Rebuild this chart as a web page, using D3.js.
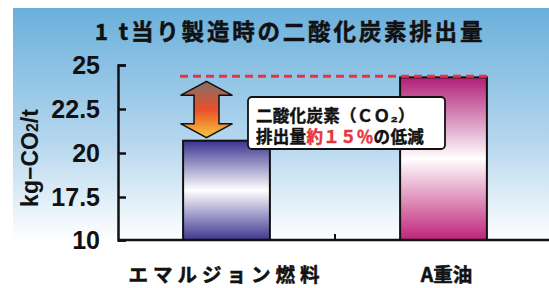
<!DOCTYPE html>
<html>
<head>
<meta charset="utf-8">
<script src="https://cdn.jsdelivr.net/npm/d3@7"></script>
<style>
  body { margin: 0; background: #fff; }
  svg { display: block; }
</style>
</head>
<body>
<div id="root"></div>
<script>
const categories = ['エマルジョン燃料', 'A重油'];
const emissions = [20.7, 24.3];
// the axis is broken: the bottom tick is 10, the rest step by 2.5
const yTicks = [10, 17.5, 20, 22.5, 25];
const titleText = '1 t当り製造時の二酸化炭素排出量';

const width = 549;
const height = 288;

const svg = d3.select('#root')
    .append('svg')
        .attr('width', width)
        .attr('height', height);

const defs = svg.append('defs');

const bg = defs.append('linearGradient')
    .attr('id', 'bg').attr('x1', 0).attr('y1', 0).attr('x2', 0).attr('y2', 1);
bg.append('stop').attr('offset', 0).attr('stop-color', '#6ab0dc');
bg.append('stop').attr('offset', 0.55).attr('stop-color', '#b6d7ee');
bg.append('stop').attr('offset', 0.95).attr('stop-color', '#ffffff');

const barColors = [
    ['#3b3390', '#ffffff', '#3f3790'],
    ['#b01f78', '#ffffff', '#bf2479']
];
barColors.forEach((c, i) => {
    const g = defs.append('linearGradient')
        .attr('id', `bar${i}`).attr('x1', 0).attr('y1', 0).attr('x2', 0).attr('y2', 1);
    g.append('stop').attr('offset', 0).attr('stop-color', c[0]);
    g.append('stop').attr('offset', 0.5).attr('stop-color', c[1]);
    g.append('stop').attr('offset', 1).attr('stop-color', c[2]);
});

const arrowGrad = defs.append('linearGradient')
    .attr('id', 'arrow').attr('x1', 0).attr('y1', 0).attr('x2', 0).attr('y2', 1);
arrowGrad.append('stop').attr('offset', 0.05).attr('stop-color', '#8b6d63');
arrowGrad.append('stop').attr('offset', 0.5).attr('stop-color', '#ea4f2a');
arrowGrad.append('stop').attr('offset', 0.95).attr('stop-color', '#f5bb3a');

// background panel
svg.append('rect')
    .attr('x', 13).attr('y', 8)
    .attr('width', width - 13).attr('height', 245)
    .attr('fill', 'url(#bg)');

svg.append('text')
    .attr('x', 290).attr('y', 40)
    .attr('text-anchor', 'middle')
    .attr('font-family', '"Noto Sans CJK JP", sans-serif')
    .attr('font-weight', 'bold')
    .attr('font-size', 22.5)
    .attr('letter-spacing', 2.8)
    .attr('fill', '#111')
    .attr('stroke', '#111')
    .attr('stroke-width', 0.5)
    .text(titleText);

const y = d3.scaleLinear()
    .domain([10, 17.5, 25])
    .range([240, 197, 65]);

const x = d3.scaleBand()
    .domain(categories)
    .range([118, 552])
    .padding(0);

const barW = x.bandwidth() * 0.4;

// bars
svg.selectAll('.bar')
    .data(categories)
    .enter()
    .append('rect')
        .attr('class', 'bar')
        .attr('x', c => x(c) + (x.bandwidth() - barW) / 2)
        .attr('y', (c, i) => y(emissions[i]))
        .attr('width', barW)
        .attr('height', (c, i) => y(10) - y(emissions[i]))
        .attr('fill', (c, i) => `url(#bar${i})`)
        .attr('stroke', '#111')
        .attr('stroke-width', 2);

// dashed reference line at A重油 level
svg.append('line')
    .attr('x1', x(categories[0]) + 62)
    .attr('x2', x(categories[1]) + (x.bandwidth() + barW) / 2)
    .attr('y1', y(emissions[1]) - 1)
    .attr('y2', y(emissions[1]) - 1)
    .attr('stroke', '#e8323c')
    .attr('stroke-width', 3)
    .attr('stroke-dasharray', '8,5');

// double arrow between the two levels
const ax = x(categories[0]) + x.bandwidth() / 2 - 20;
const aTop = y(emissions[1]) + 4;
const aBot = y(emissions[0]) - 3;
const hw = 26, sw = 12.5, hh = 14;
svg.append('path')
    .attr('d', `M${ax},${aTop} L${ax + hw},${aTop + hh} L${ax + sw},${aTop + hh}
        L${ax + sw},${aBot - hh} L${ax + hw},${aBot - hh} L${ax},${aBot}
        L${ax - hw},${aBot - hh} L${ax - sw},${aBot - hh} L${ax - sw},${aTop + hh}
        L${ax - hw},${aTop + hh} Z`)
    .attr('fill', 'url(#arrow)')
    .attr('stroke', '#111')
    .attr('stroke-width', 1.5)
    .attr('stroke-linejoin', 'miter');

// callout
svg.append('rect')
    .attr('x', 248).attr('y', 97)
    .attr('width', 197).attr('height', 52)
    .attr('rx', 4)
    .attr('fill', '#fff')
    .attr('stroke', '#111')
    .attr('stroke-width', 1.8);

const note = svg.append('g')
    .attr('font-family', '"Noto Sans CJK JP", sans-serif')
    .attr('font-weight', 'bold')
    .attr('font-size', 16.5)
    .attr('fill', '#111')
    .attr('stroke', '#111')
    .attr('stroke-width', 0.45);
note.append('text').attr('x', 256).attr('y', 122)
    .attr('letter-spacing', 0.3)
    .text('二酸化炭素（ＣＯ₂）');
const l2 = note.append('text').attr('x', 256).attr('y', 143).attr('letter-spacing', 0.3);
l2.append('tspan').text('排出量');
l2.append('tspan').attr('fill', '#e8323c').attr('stroke', '#e8323c').text('約１５％');
l2.append('tspan').text('の低減');

// y axis
const yAxis = svg.append('g')
    .attr('transform', 'translate(118,0)')
    .call(d3.axisLeft(y)
        .tickValues(yTicks)
        .tickSize(-8)
        .tickSizeOuter(-8)
        .tickPadding(18)
        .tickFormat(d => d3.format('')(d)));
yAxis.select('.domain').attr('stroke', '#111').attr('stroke-width', 2.5);
yAxis.selectAll('.tick line').attr('stroke', '#111').attr('stroke-width', 2.5);
yAxis.selectAll('.tick text')
    .attr('font-family', '"Liberation Sans", sans-serif')
    .attr('font-weight', 'bold')
    .attr('font-size', 25)
    .attr('fill', '#111');

// x axis
svg.append('line')
    .attr('x1', 118).attr('x2', width)
    .attr('y1', y(10)).attr('y2', y(10))
    .attr('stroke', '#111').attr('stroke-width', 2.5);
svg.selectAll('.xtick')
    .data(categories)
    .enter()
    .append('line')
        .attr('x1', c => x(c) + x.bandwidth())
        .attr('x2', c => x(c) + x.bandwidth())
        .attr('y1', y(10))
        .attr('y2', y(10) - 6)
        .attr('stroke', '#111')
        .attr('stroke-width', 2);

svg.selectAll('.xlabel')
    .data(categories)
    .enter()
    .append('text')
        .attr('x', (c, i) => x(c) + x.bandwidth() / 2 + (i === 1 ? 3 : 0))
        .attr('y', 282)
        .attr('text-anchor', 'middle')
        .attr('font-family', '"Noto Sans CJK JP", sans-serif')
        .attr('font-weight', 'bold')
        .attr('font-size', 19.5)
        .attr('letter-spacing', (c, i) => i === 0 ? 5 : 0)
        .attr('fill', '#111')
        .attr('stroke', '#111')
        .attr('stroke-width', 0.5)
        .text(c => c);

// y axis title
const yt = svg.append('text')
    .attr('transform', 'translate(38,158) rotate(-90)')
    .attr('text-anchor', 'middle')
    .attr('font-family', '"Liberation Sans", sans-serif')
    .attr('font-weight', 'bold')
    .attr('font-size', 23)
    .attr('fill', '#111');
yt.append('tspan').text('kg−CO');
yt.append('tspan').attr('font-size', 16).text('2');
yt.append('tspan').text('/t');
</script>
</body>
</html>
